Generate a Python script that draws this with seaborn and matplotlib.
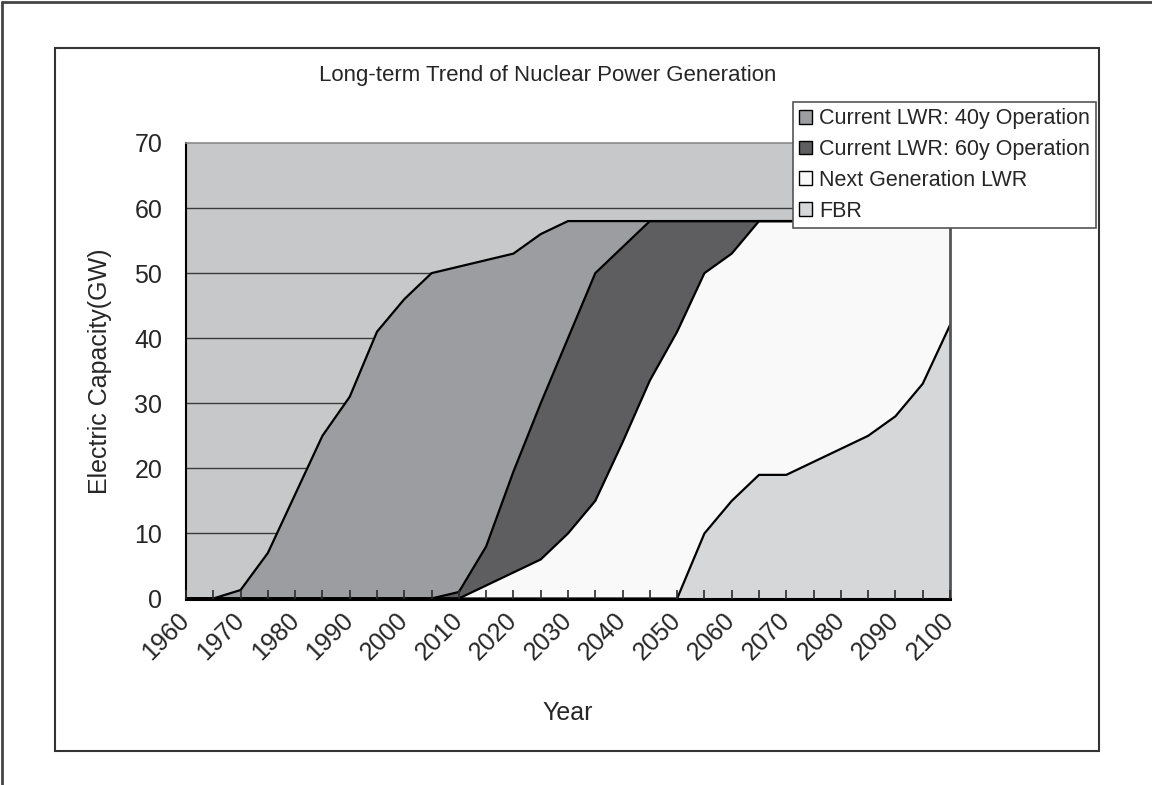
import matplotlib
matplotlib.use("Agg")
import matplotlib.pyplot as plt
from matplotlib.patches import Patch, Rectangle
from matplotlib.lines import Line2D
from matplotlib.ticker import MultipleLocator
import seaborn as sns
import pandas as pd
import numpy as np

# data (GW, every 5 years)
years = list(range(1960, 2101, 5))
lwr40 = [0, 0, 1.3, 7, 16, 25, 31, 41, 46, 50, 50, 44, 33.5, 26, 18, 8, 4,
         0, 0, 0, 0, 0, 0, 0, 0, 0, 0, 0, 0]
lwr60 = [0, 0, 0, 0, 0, 0, 0, 0, 0, 0, 1, 6, 15.5, 24, 30, 35, 30, 24.5, 17,
         8, 5, 0, 0, 0, 0, 0, 0, 0, 0]
nextgen = [0, 0, 0, 0, 0, 0, 0, 0, 0, 0, 0, 2, 4, 6, 10, 15, 24, 33.5, 41,
           40, 38, 39, 39, 37, 35, 33, 30, 25, 16]
fbr = [0, 0, 0, 0, 0, 0, 0, 0, 0, 0, 0, 0, 0, 0, 0, 0, 0, 0, 0,
       10, 15, 19, 19, 21, 23, 25, 28, 33, 42]

labels = ["Current LWR: 40y Operation", "Current LWR: 60y Operation",
          "Next Generation LWR", "FBR"]
colors = {"Current LWR: 40y Operation": "#9c9da1",
          "Current LWR: 60y Operation": "#5e5e61",
          "Next Generation LWR": "#f9f9f9",
          "FBR": "#d6d7d9"}

df = pd.DataFrame({"Year": years, "FBR": fbr, "Next Generation LWR": nextgen,
                   "Current LWR: 60y Operation": lwr60,
                   "Current LWR: 40y Operation": lwr40})
stack_order = ["FBR", "Next Generation LWR", "Current LWR: 60y Operation",
               "Current LWR: 40y Operation"]
cum = df[stack_order].cumsum(axis=1)

sns.set_theme(style="white")
plt.rcParams['font.family'] = ['Liberation Sans', 'DejaVu Sans']
plt.rcParams['xtick.bottom'] = True
plt.rcParams['xtick.direction'] = 'in'

fig = plt.figure(figsize=(11.52, 7.85), dpi=100)
ax = fig.add_axes([186/1152, 1-598.5/785, 764/1152, 455.5/785])
ax.set_facecolor("#c7c8ca")

# gridlines behind the areas
for v in range(10, 70, 10):
    ax.axhline(v, color="#3a3a3a", lw=1, zorder=0.8)

ax.stackplot(df["Year"], [df[c] for c in stack_order],
             colors=[colors[c] for c in stack_order], edgecolor="none", zorder=1)

# black outlines of each stacked layer
for c in stack_order:
    sns.lineplot(x=df["Year"], y=cum[c], color="black", lw=1.6, ax=ax,
                 legend=False, zorder=2)

ax.set_xlim(1960, 2100)
ax.set_ylim(0, 70)
ax.xaxis.set_major_locator(MultipleLocator(10))
ax.xaxis.set_minor_locator(MultipleLocator(5))
ax.yaxis.set_major_locator(MultipleLocator(10))
ax.tick_params(axis="x", which="both", direction="in", length=6.5, width=1.2,
               color="#2a2a2a", bottom=True)
ax.tick_params(axis="x", which="major", labelsize=18, pad=13)
ax.tick_params(axis="y", length=0, labelsize=18, pad=17, left=True)
ax.set_axisbelow(False)  # tick marks on top of the areas
ax.xaxis.set_zorder(3)
for lab in ax.get_xticklabels():
    lab.set_rotation(45)
    lab.set_ha("right")
    lab.set_va("center")
    lab.set_rotation_mode("anchor")

ax.spines["left"].set_color("black")
ax.spines["left"].set_linewidth(1.5)
ax.spines["bottom"].set_color("black")
ax.spines["bottom"].set_linewidth(2.2)
ax.spines["top"].set_color("#8a8a8a")
ax.spines["top"].set_linewidth(1.2)
ax.spines["right"].set_color("#555555")
ax.spines["right"].set_linewidth(2)

ax.set_xlabel("Year", fontsize=18)
ax.set_ylabel("Electric Capacity(GW)", fontsize=18)
ax.xaxis.set_label_coords(0.5, -0.225)
ax.yaxis.set_label_coords(-0.097, 0.5)

fig.text(548/1152, 1-75/785, "Long-term Trend of Nuclear Power Generation",
         ha="center", va="center", fontsize=16)

handles = [Patch(facecolor=colors[l], edgecolor="black", lw=1) for l in labels]
leg = fig.legend(handles, labels, loc="upper left",
                 bbox_to_anchor=(793/1152, 1-102/785), fontsize=15.5,
                 frameon=True, fancybox=False, edgecolor="#555555",
                 framealpha=1, facecolor="white",
                 handlelength=0.6, handleheight=0.6, handletextpad=0.3,
                 labelspacing=0.45, borderpad=0.3, borderaxespad=0)
leg.get_frame().set_linewidth(1.2)

# chart area box and the outer frame edges
fig.add_artist(Rectangle((55/1152, 1-751/785), 1044/1152, 703/785,
                         transform=fig.transFigure, fill=False,
                         ec="#333333", lw=1.5))
fig.add_artist(Line2D([2/1152, 2/1152], [0, 1-2/785], transform=fig.transFigure,
                      color="#444444", lw=2))
fig.add_artist(Line2D([2/1152, 1], [1-2/785, 1-2/785], transform=fig.transFigure,
                      color="#444444", lw=2))

fig.savefig("out.png", dpi=100)
